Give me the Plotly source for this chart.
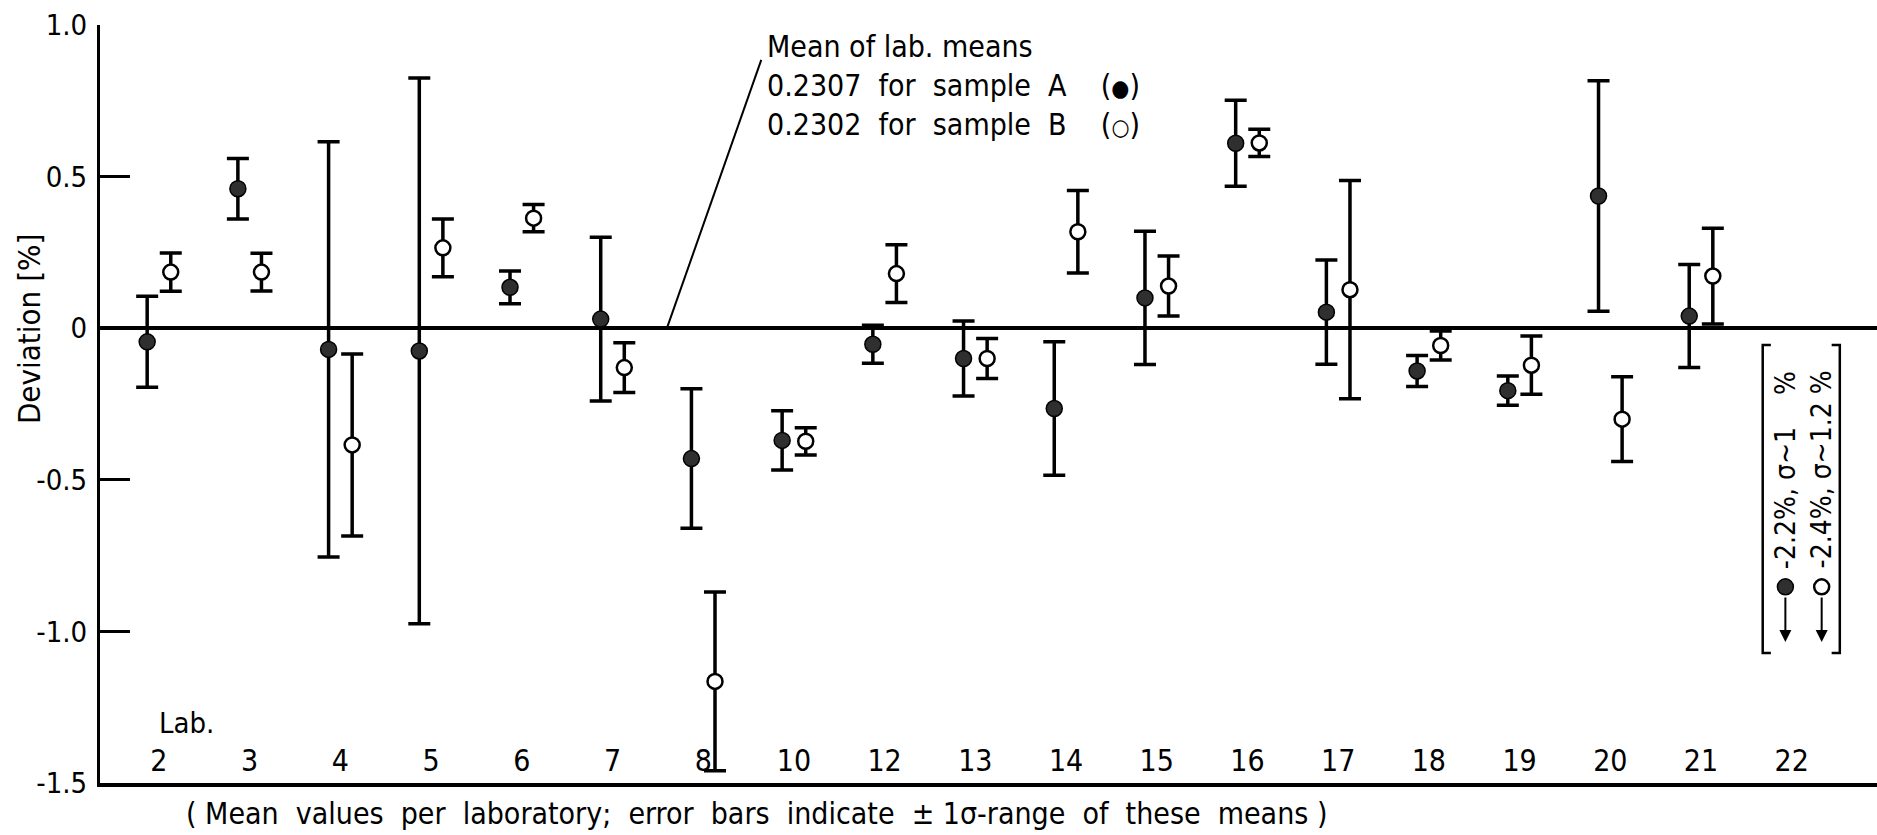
import plotly.graph_objects as go

# Laboratories taking part in the intercomparison
labs = ["2", "3", "4", "5", "6", "7", "8", "10", "12", "13", "14",
        "15", "16", "17", "18", "19", "20", "21", "22"]

# Sample A: mean deviation per laboratory [%] and 1-sigma of these means
mean_a = [-0.045, 0.46, -0.07, -0.075, 0.135, 0.03, -0.43, -0.37, -0.053, -0.10,
          -0.265, 0.10, 0.61, 0.053, -0.141, -0.206, 0.436, 0.04, -2.2]
sigma_a = [0.15, 0.10, 0.685, 0.90, 0.054, 0.27, 0.23, 0.098, 0.063, 0.124,
           0.22, 0.22, 0.142, 0.172, 0.051, 0.048, 0.38, 0.17, 1.0]

# Sample B
mean_b = [0.185, 0.185, -0.385, 0.265, 0.363, -0.13, -1.165, -0.373, 0.18, -0.10,
          0.318, 0.139, 0.611, 0.127, -0.057, -0.122, -0.30, 0.172, -2.4]
sigma_b = [0.063, 0.062, 0.30, 0.095, 0.045, 0.082, 0.295, 0.045, 0.095, 0.066,
           0.136, 0.099, 0.045, 0.36, 0.048, 0.096, 0.14, 0.158, 1.2]

# Reference values (mean of laboratory means)
ref_a = 0.2307
ref_b = 0.2302

y_ticks = [-1.5, -1.0, -0.5, 0.0, 0.5, 1.0]
y_ticktext = ["-1.5", "-1.0", "-0.5", "0", "0.5", "1.0"]
Y_MIN, Y_MAX = -1.5, 1.0

FONT = "DejaVu Sans Condensed, DejaVu Sans, sans-serif"
INK = "black"
DX = 0.13  # horizontal offset of sample A / sample B within a lab slot
NB = "\u00a0"

idx = list(range(len(labs)))

# split into points on scale and off-scale points
on_a = [i for i in idx if mean_a[i] >= Y_MIN]
on_b = [i for i in idx if mean_b[i] >= Y_MIN]
off = [i for i in idx if mean_a[i] < Y_MIN or mean_b[i] < Y_MIN]

FILLED = dict(symbol="circle", size=16, color="#2f2f2f", line=dict(color=INK, width=1.5))
HOLLOW = dict(symbol="circle", size=15, color="white", line=dict(color=INK, width=2.5))

fig = go.Figure()

fig.add_trace(go.Scatter(
    x=[i - DX for i in on_a], y=[mean_a[i] for i in on_a],
    mode="markers", marker=FILLED,
    error_y=dict(type="data", array=[sigma_a[i] for i in on_a],
                 thickness=3.5, width=11, color=INK),
    showlegend=False, name="Sample A",
))
fig.add_trace(go.Scatter(
    x=[i + DX for i in on_b], y=[mean_b[i] for i in on_b],
    mode="markers", marker=HOLLOW,
    error_y=dict(type="data", array=[sigma_b[i] for i in on_b],
                 thickness=3.5, width=11, color=INK),
    showlegend=False, name="Sample B",
))

# lab numbers written inside the frame, just above the x axis
fig.add_trace(go.Scatter(
    x=idx, y=[-1.437] * len(labs), mode="text", text=labs,
    textfont=dict(family=FONT, size=30, color=INK),
    showlegend=False, hoverinfo="skip",
))

shapes = []
annotations = []

# off-scale laboratory: bracketed box with symbols, arrows and values
for i in off:
    xa, xb = i - 0.07, i + 0.33
    y_sym, y_tip = -0.853, -1.035
    x_l, x_r, y_t, y_b = i - 0.32, i + 0.53, -0.055, -1.071
    fig.add_trace(go.Scatter(x=[xa], y=[y_sym], mode="markers", marker=FILLED,
                             showlegend=False, hoverinfo="skip"))
    fig.add_trace(go.Scatter(x=[xb], y=[y_sym], mode="markers", marker=HOLLOW,
                             showlegend=False, hoverinfo="skip"))
    for xx in (xa, xb):
        annotations.append(dict(
            x=xx, y=y_tip, ax=xx, ay=y_sym - 0.03, xref="x", yref="y",
            axref="x", ayref="y", showarrow=True, arrowhead=2,
            arrowsize=1.2, arrowwidth=2, arrowcolor=INK, text=""))
    shapes.append(dict(type="path", xref="x", yref="y",
                       path=f"M {x_l+0.09},{y_t} L {x_l},{y_t} L {x_l},{y_b} L {x_l+0.09},{y_b}",
                       line=dict(color=INK, width=2.5)))
    shapes.append(dict(type="path", xref="x", yref="y",
                       path=f"M {x_r-0.09},{y_t} L {x_r},{y_t} L {x_r},{y_b} L {x_r-0.09},{y_b}",
                       line=dict(color=INK, width=2.5)))
    txt_a = f"-{abs(mean_a[i]):g}%, σ~{sigma_a[i]:g}{NB * 4}%"
    txt_b = f"-{abs(mean_b[i]):g}%, σ~{sigma_b[i]:g}{NB}%"
    for xx, t in ((xa, txt_a), (xb, txt_b)):
        annotations.append(dict(
            x=xx, y=-0.80, xref="x", yref="y", text=t,
            textangle=-90, showarrow=False, xanchor="center", yanchor="bottom",
            font=dict(family=FONT, size=28, color=INK)))

# leader line from the zero line to the reference-value note
shapes.append(dict(type="line", xref="x", yref="y", x0=5.6, y0=0.0,
                   x1=6.64, y1=0.885, line=dict(color=INK, width=2)))

DOT_A = '<span style="font-size:23px">●</span>'
DOT_B = '<span style="font-size:23px">○</span>'
annotations.append(dict(
    x=6.68, y=0.80, xref="x", yref="y", xanchor="left", yanchor="middle",
    align="left", showarrow=False,
    text=("Mean of lab. means<br>"
          f"{ref_a:.4f}{NB} for{NB} sample{NB} A{NB * 3} ({DOT_A})<br>"
          f"{ref_b:.4f}{NB} for{NB} sample{NB} B{NB * 3} ({DOT_B})"),
    font=dict(family=FONT, size=30, color=INK)))

annotations.append(dict(
    x=-0.02, y=-1.302, xref="x", yref="y", xanchor="left", yanchor="middle",
    text="Lab.", showarrow=False, font=dict(family=FONT, size=29, color=INK)))

annotations.append(dict(
    x=0.047, y=-0.04, xref="paper", yref="paper", xanchor="left", yanchor="middle",
    showarrow=False,
    text=(f"({NB}Mean{NB} values{NB} per{NB} laboratory;{NB} error{NB} bars{NB} "
          f"indicate{NB} ±{NB}1σ-range{NB} of{NB} these{NB} means{NB})"),
    font=dict(family=FONT, size=30, color=INK)))

annotations.append(dict(
    x=-0.040, y=0.0, xref="paper", yref="y", xanchor="center", yanchor="middle",
    textangle=-90, showarrow=False, text="Deviation [%]",
    font=dict(family=FONT, size=31, color=INK)))

fig.update_layout(
    width=1877, height=835,
    margin=dict(l=100, r=0, t=25, b=52),
    paper_bgcolor="white", plot_bgcolor="white",
    font=dict(family=FONT, color=INK),
    shapes=shapes, annotations=annotations,
    xaxis=dict(range=[-0.65, 18.94], showline=True, linewidth=4, linecolor=INK,
               showgrid=False, zeroline=False, showticklabels=False, ticks=""),
    yaxis=dict(range=[Y_MIN, Y_MAX], showline=True, linewidth=3, linecolor=INK,
               showgrid=False, zeroline=True, zerolinewidth=4, zerolinecolor=INK,
               ticks="inside", ticklen=30, tickwidth=3, tickcolor=INK,
               tickvals=y_ticks, ticktext=y_ticktext,
               tickfont=dict(family=FONT, size=29, color=INK),
               ticklabelstandoff=4),
)

fig.write_html("out.html")
